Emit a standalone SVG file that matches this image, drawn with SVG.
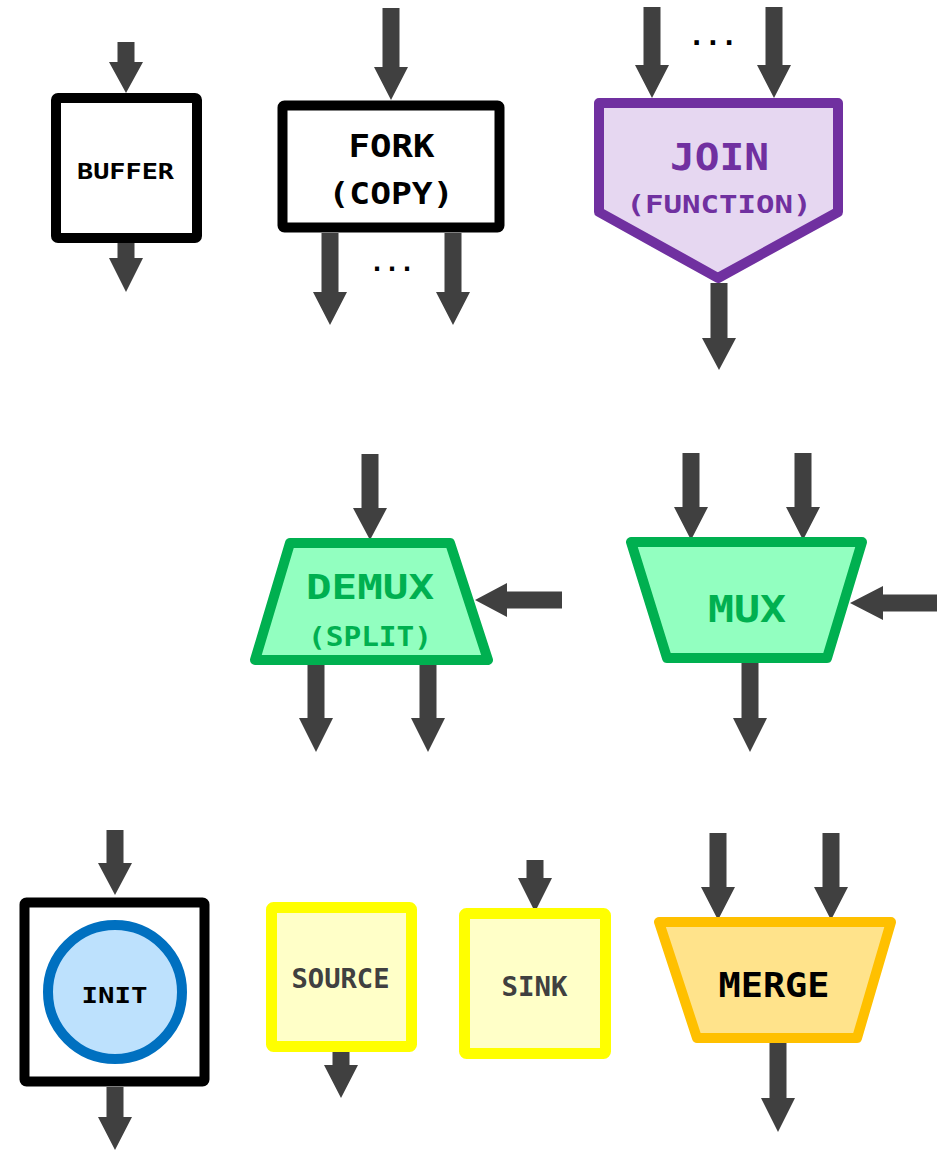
<svg xmlns="http://www.w3.org/2000/svg" width="948" height="1150" viewBox="0 0 948 1150">
<style>
.arr{fill:#404040;stroke:none}
.blk{fill:#fff;stroke:#000;stroke-width:10;stroke-linejoin:round}
.pur{fill:#E6D7F1;stroke:#7030A0;stroke-width:10;stroke-linejoin:round}
.grn{fill:#92FFC0;stroke:#00B050;stroke-width:10;stroke-linejoin:round}
.yel{fill:#FFFFC8;stroke:#FFFF00;stroke-width:11;stroke-linejoin:round}
.org{fill:#FFE38B;stroke:#FFC000;stroke-width:10;stroke-linejoin:round}
.t{font-family:"DejaVu Sans Mono","Liberation Mono",monospace;font-weight:bold;text-anchor:middle}
</style>
<rect width="948" height="1150" fill="#fff"/>
<g id="connectors">
<polygon class="arr" points="117.5,42 134.5,42 134.5,62 143,62 126,93 109,62 117.5,62"/>
<polygon class="arr" points="117.5,243 134.5,243 134.5,258 143,258 126,292 109,258 117.5,258"/>
<polygon class="arr" points="382.5,8 399.5,8 399.5,67 408,67 391,100 374,67 382.5,67"/>
<polygon class="arr" points="321.5,233 338.5,233 338.5,292 347,292 330,325 313,292 321.5,292"/>
<polygon class="arr" points="444.5,233 461.5,233 461.5,292 470,292 453,325 436,292 444.5,292"/>
<polygon class="arr" points="643.5,7 660.5,7 660.5,65 669,65 652,98 635,65 643.5,65"/>
<polygon class="arr" points="765.5,7 782.5,7 782.5,65 791,65 774,98 757,65 765.5,65"/>
<polygon class="arr" points="710.5,283 727.5,283 727.5,338 736,338 719,370 702,338 710.5,338"/>
<polygon class="arr" points="361.5,454 378.5,454 378.5,508 387,508 370,540 353,508 361.5,508"/>
<polygon class="arr" points="562,591.5 562,608.5 507,608.5 507,617 475,600 507,583 507,591.5"/>
<polygon class="arr" points="307.5,665 324.5,665 324.5,718 333,718 316,752 299,718 307.5,718"/>
<polygon class="arr" points="419.5,665 436.5,665 436.5,718 445,718 428,752 411,718 419.5,718"/>
<polygon class="arr" points="682.5,453 699.5,453 699.5,507 708,507 691,540 674,507 682.5,507"/>
<polygon class="arr" points="794.5,453 811.5,453 811.5,507 820,507 803,540 786,507 794.5,507"/>
<polygon class="arr" points="937,594.5 937,611.5 883,611.5 883,620 850,603 883,586 883,594.5"/>
<polygon class="arr" points="741.5,663 758.5,663 758.5,718 767,718 750,752 733,718 741.5,718"/>
<polygon class="arr" points="106.5,830 123.5,830 123.5,863 132,863 115,895 98,863 106.5,863"/>
<polygon class="arr" points="106.5,1087 123.5,1087 123.5,1117 132,1117 115,1150 98,1117 106.5,1117"/>
<polygon class="arr" points="332.5,1052 349.5,1052 349.5,1065 358,1065 341,1098 324,1065 332.5,1065"/>
<polygon class="arr" points="526.5,860 543.5,860 543.5,878 552,878 535,912 518,878 526.5,878"/>
<polygon class="arr" points="709.5,833 726.5,833 726.5,887 735,887 718,920 701,887 709.5,887"/>
<polygon class="arr" points="822.5,833 839.5,833 839.5,887 848,887 831,920 814,887 822.5,887"/>
<polygon class="arr" points="769.5,1043 786.5,1043 786.5,1098 795,1098 778,1132 761,1098 769.5,1098"/>
<text class="t" x="392" y="271" font-size="25" fill="#000">...</text>
<text class="t" x="713" y="45" font-size="27" fill="#000">...</text>
</g>
<g id="buffer">
<rect class="blk" x="56" y="98" width="141" height="140" rx="2"/>
<text class="t" x="125.5" y="179" font-size="22" textLength="97" lengthAdjust="spacingAndGlyphs">BUFFER</text>
</g>
<g id="fork">
<rect class="blk" x="282.5" y="105.5" width="217" height="122" rx="2"/>
<text class="t" x="391.5" y="157" font-size="32" textLength="86" lengthAdjust="spacingAndGlyphs">FORK</text>
<text class="t" x="391" y="204" font-size="31" textLength="125" lengthAdjust="spacingAndGlyphs">(COPY)</text>
</g>
<g id="join">
<polygon class="pur" points="599,103 838,103 838,212 718,278 599,212"/>
<text class="t" x="719.5" y="170" font-size="37" fill="#7030A0" textLength="99" lengthAdjust="spacingAndGlyphs">JOIN</text>
<text class="t" x="719" y="213" font-size="25" fill="#7030A0" textLength="185" lengthAdjust="spacingAndGlyphs">(FUNCTION)</text>
</g>
<g id="demux">
<polygon class="grn" points="290,543 450,543 488,660 255,660"/>
<text class="t" x="370" y="599" font-size="33" fill="#00B050" textLength="128" lengthAdjust="spacingAndGlyphs">DEMUX</text>
<text class="t" x="370" y="646" font-size="26.5" fill="#00B050" textLength="124" lengthAdjust="spacingAndGlyphs">(SPLIT)</text>
</g>
<g id="mux">
<polygon class="grn" points="631,542 862,542 827,658 667,658"/>
<text class="t" x="747" y="622" font-size="38" fill="#00B050" textLength="78" lengthAdjust="spacingAndGlyphs">MUX</text>
</g>
<g id="init">
<rect class="blk" x="24.5" y="902.5" width="180" height="179" rx="2" stroke-width="11"/>
<circle cx="115" cy="992" r="67" fill="#BDE1FD" stroke="#0070C0" stroke-width="10"/>
<text class="t" x="114.5" y="1003" font-size="22" textLength="66" lengthAdjust="spacingAndGlyphs">INIT</text>
</g>
<g id="source">
<rect class="yel" x="271.5" y="907.5" width="140" height="139" rx="2"/>
<text class="t" x="340.5" y="988" font-size="26" fill="#404040" textLength="98" lengthAdjust="spacingAndGlyphs">SOURCE</text>
</g>
<g id="sink">
<rect class="yel" x="464.5" y="913.5" width="141" height="140" rx="2"/>
<text class="t" x="534.5" y="996" font-size="26" fill="#404040" textLength="66" lengthAdjust="spacingAndGlyphs">SINK</text>
</g>
<g id="merge">
<polygon class="org" points="659,922 891,922 857,1038 697,1038"/>
<text class="t" x="774" y="997" font-size="34" fill="#000" textLength="111" lengthAdjust="spacingAndGlyphs">MERGE</text>
</g>
</svg>
